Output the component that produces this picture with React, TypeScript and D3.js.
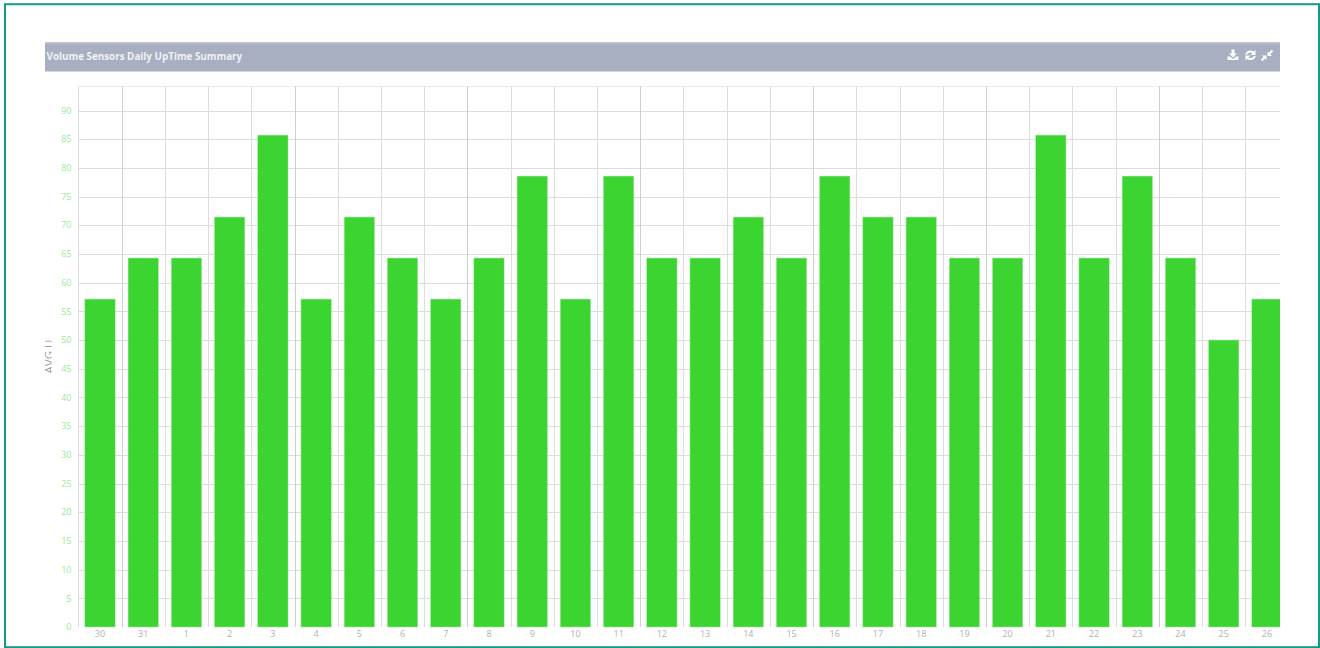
import React from "react";
import * as d3 from "d3";

const days = ["30","31","1","2","3","4","5","6","7","8","9","10","11","12","13","14","15","16","17","18","19","20","21","22","23","24","25","26"];
const avgUptime = [57.14,64.29,64.29,71.43,85.71,57.14,71.43,64.29,57.14,64.29,78.57,57.14,78.57,64.29,64.29,71.43,64.29,78.57,71.43,71.43,64.29,64.29,85.71,64.29,78.57,64.29,50,57.14];
const yTicks = d3.range(0, 95, 5);
const chartTitle = "Volume Sensors Daily UpTime Summary";
const yAxisTitle = "AVG U";

const W = 1320, H = 648;
const plot = { left: 78.4, right: 1280, top: 86, bottom: 627 };
const font = "'Open Sans', sans-serif";

export default function App() {
  const step = 43.22;
  const x = d3.scaleBand<string>()
    .domain(days)
    .range([plot.left, plot.left + step * days.length])
    .paddingInner(0.3)
    .paddingOuter(0.15);
  const y = d3.scaleLinear().domain([0, 90]).range([plot.bottom, 110.5]);
  const boundaries = days.map((_, i) => plot.left + step * i);

  return (
    <svg width={W} height={H} style={{ position: "absolute", left: 0, top: 0, background: "#fff" }} fontFamily={font}>
      <defs>
        <clipPath id="plot-area">
          <rect x={plot.left} y={plot.top} width={plot.right - plot.left} height={plot.bottom - plot.top + 1} />
        </clipPath>
        <clipPath id="axis-title-area">
          <rect x={40} y={320} width={11.6} height={70} />
        </clipPath>
      </defs>

      {/* outer card border */}
      <rect x={5} y={4.2} width={1314} height={643} fill="none" stroke="#0f9c84" strokeWidth={2} />

      {/* panel heading */}
      <rect x={45} y={42} width={1235} height={29} fill="#a7afc0" />
      <rect x={45} y={42} width={1235} height={1.5} fill="#c3c6ce" />
      <rect x={45} y={71} width={1235} height={1} fill="#d4d7de" />
      <text x={46.5} y={60} fill="#f1f2f6" fontSize={9.85} fontWeight={700}>{chartTitle}</text>

      {/* heading toolbar: download, refresh, collapse */}
      <g fill="#fff" stroke="none">
        <path d="M1231.5 49.5h3v4h2.5l-4 4-4-4h2.5z" />
        <path d="M1227.5 56.5h2.5l3 2.5 3-2.5h2.5v3.5h-11z" />
      </g>
      <g fill="none" stroke="#fff" strokeWidth={2}>
        <path d="M1246 54.5a4.8 4.8 0 0 1 8-1.5" />
        <path d="M1255 56a4.8 4.8 0 0 1-8 1.5" />
      </g>
      <g fill="#fff">
        <path d="M1255.5 50v5h-5z" />
        <path d="M1245.5 60.5v-5h5z" />
      </g>
      <g fill="#fff">
        <path d="M1267.5 51.5l4.5 4.5h-4.5z" />
        <path d="M1266.5 60l-4.5-4.5h4.5z" />
      </g>
      <g stroke="#fff" strokeWidth={2.2}>
        <line x1={1272.5} y1={50.5} x2={1269} y2={54} />
        <line x1={1261.5} y1={60.5} x2={1265} y2={57} />
      </g>

      {/* grid */}
      <g stroke="#dddddd" strokeWidth={1} shapeRendering="crispEdges">
        <line x1={plot.left} x2={plot.right} y1={plot.top} y2={plot.top} stroke="#ececec" />
        {yTicks.filter(t => t > 0).map(t => (
          <line key={t} x1={plot.left} x2={plot.right} y1={Math.round(y(t)) + 0.5} y2={Math.round(y(t)) + 0.5} />
        ))}
        {boundaries.map((b, i) => (
          <line key={i} x1={Math.round(b) + 0.5} x2={Math.round(b) + 0.5} y1={plot.top} y2={plot.bottom}
            stroke={i % 4 === 1 ? "#cfcfcf" : "#dddddd"} />
        ))}
      </g>

      {/* bars, the last one runs past the plot edge */}
      <g clipPath="url(#plot-area)">
        {avgUptime.map((v, i) => (
          <rect key={days[i]} x={x(days[i])!} y={y(v)} width={x.bandwidth()} height={plot.bottom - y(v)}
            fill="#3bd431" stroke="#9ee89a" strokeWidth={0.5} />
        ))}
      </g>

      {/* y axis labels */}
      <g fill="#9ae998" fontSize={9} textAnchor="end">
        {yTicks.map(t => (
          <text key={t} x={71.5} y={y(t) + 3.2}>{t}</text>
        ))}
      </g>

      {/* x axis labels */}
      <g fill="#b0b0b0" fontSize={9} textAnchor="middle">
        {days.map(d => (
          <text key={d} x={x(d)! + x.bandwidth() / 2} y={637}>{d}</text>
        ))}
      </g>

      {/* y axis title, cut off by its container */}
      <g clipPath="url(#axis-title-area)">
        <text transform="translate(53,356.5) rotate(-90)" textAnchor="middle" fill="#9a9a9a" fontSize={11.5}>{yAxisTitle}</text>
      </g>
    </svg>
  );
}
